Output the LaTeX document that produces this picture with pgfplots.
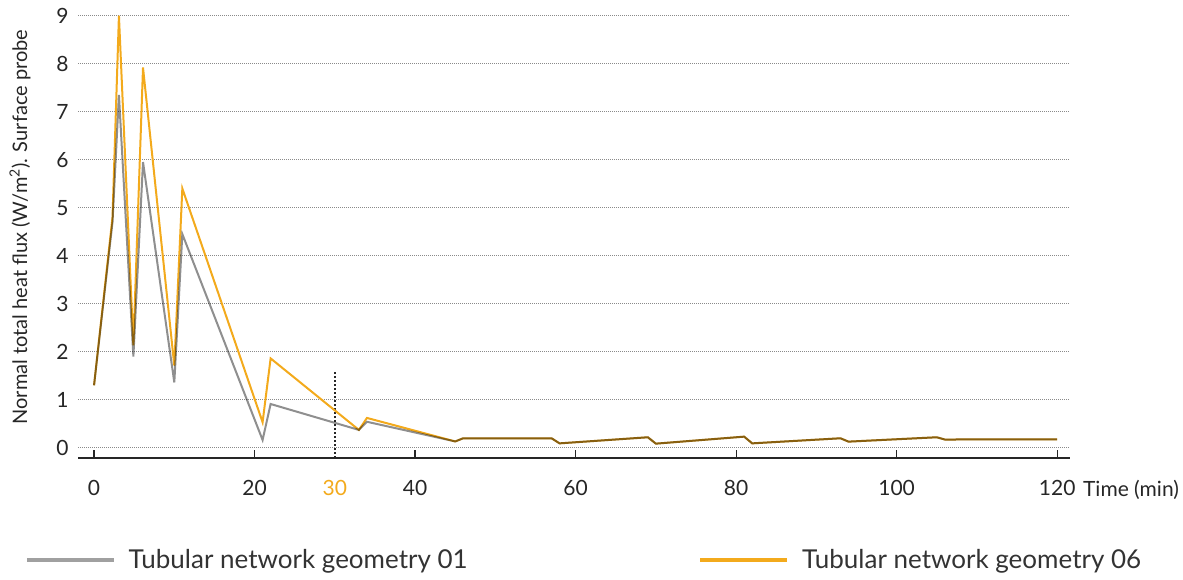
\documentclass[border=0pt]{standalone}
\usepackage{pgfplots}
\pgfplotsset{compat=1.18}
\usepackage{fontspec}
\setmainfont{Lato}
\definecolor{myorange}{HTML}{F3AA1C}
\definecolor{mygrey}{HTML}{8F8F8F}
\definecolor{gridgrey}{HTML}{8A8A8A}
\begin{document}
\begin{tikzpicture}[x=1pt,y=1pt]
\path[use as bounding box] (0,0) rectangle (1183,579);
\begin{axis}[
  at={(78pt,121pt)}, anchor=south west,
  scale only axis, width=992pt, height=442.3pt,
  xmin=-2, xmax=121.6, ymin=-0.215, ymax=9,
  clip=false,
  axis x line*=bottom, axis y line*=left,
  x axis line style={-, line width=1.6pt, color=black!85},
  y axis line style={draw=none},
  xtick={0,20,40,60,80,100,120},
  ytick={0,1,2,3,4,5,6,7,8,9},
  tick align=inside,
  xtick style={line width=1.2pt, color=black!85},
  major tick length=8pt,
  ytick style={draw=none},
  extra x ticks={30},
  extra x tick style={major tick length=0pt, xticklabel style={text=myorange}},
  ymajorgrids,
  grid style={dash pattern=on 1pt off 1pt, line width=1pt, color=gridgrey},
  /pgf/number format/assume math mode=true,
  ticklabel style={font=\fontsize{21}{25}\selectfont, text=black!85},
  xticklabel style={yshift=-19pt},
  yticklabel style={xshift=-6pt},
  xlabel={Time (min)},
  xlabel style={at={(axis description cs:1.013,-0.073)}, anchor=west, font=\fontsize{21}{25}\selectfont, text=black!85, inner sep=0pt},
  ylabel={Normal total heat flux (W/m\textsuperscript{2}). Surface probe},
  ylabel style={at={(axis description cs:-0.0585,0.522)}, anchor=center, font=\fontsize{20}{24}\selectfont, text=black!85},
  legend style={at={(axis description cs:-0.0534,-0.2306)}, anchor=west, draw=none, fill=none,
    inner sep=0pt, column sep=13pt, nodes={inner sep=0pt, font=\fontsize{26}{30}\selectfont, text=black!80}},
  legend columns=2,
  legend image code/.code={\draw[#1, line width=3.5pt] (0pt,0pt) -- (87pt,0pt);},
]
\addlegendimage{mygrey!85}
\addlegendentry{\makebox[557pt][l]{Tubular network geometry 01}}
\addlegendimage{myorange}
\addlegendentry{Tubular network geometry 06}

% dashed marker at 30 min
\addplot[forget plot, black!85, line width=1.5pt, dash pattern=on 2pt off 2pt] coordinates {(30,-0.215) (30,1.6)};

% geometry 06
\addplot[forget plot, myorange, line width=2pt] coordinates {
(0,1.3) (2.3,4.8) (3.1,9.0) (4.9,2.13) (6.1,7.92) (10,1.71) (11,5.4)
(21,0.53) (22,1.86) (33,0.37) (34,0.62) (45,0.13) (46,0.196) (57,0.196)
(58,0.09) (69,0.217) (70,0.084) (81,0.23) (82,0.09) (93,0.196) (94,0.126)
(105,0.217) (106,0.17) (120,0.175)
};
% geometry 01
\addplot[forget plot, mygrey, line width=2pt, blend mode=multiply] coordinates {
(0,1.3) (2.3,4.7) (3.1,7.35) (4.9,1.9) (6.1,5.95) (10,1.36) (11,4.45)
(21,0.16) (22,0.91) (33,0.37) (34,0.54) (45,0.13) (46,0.196) (57,0.196)
(58,0.09) (69,0.217) (70,0.084) (81,0.23) (82,0.09) (93,0.196) (94,0.126)
(105,0.217) (106,0.17) (120,0.175)
};
\end{axis}
\end{tikzpicture}
\end{document}
